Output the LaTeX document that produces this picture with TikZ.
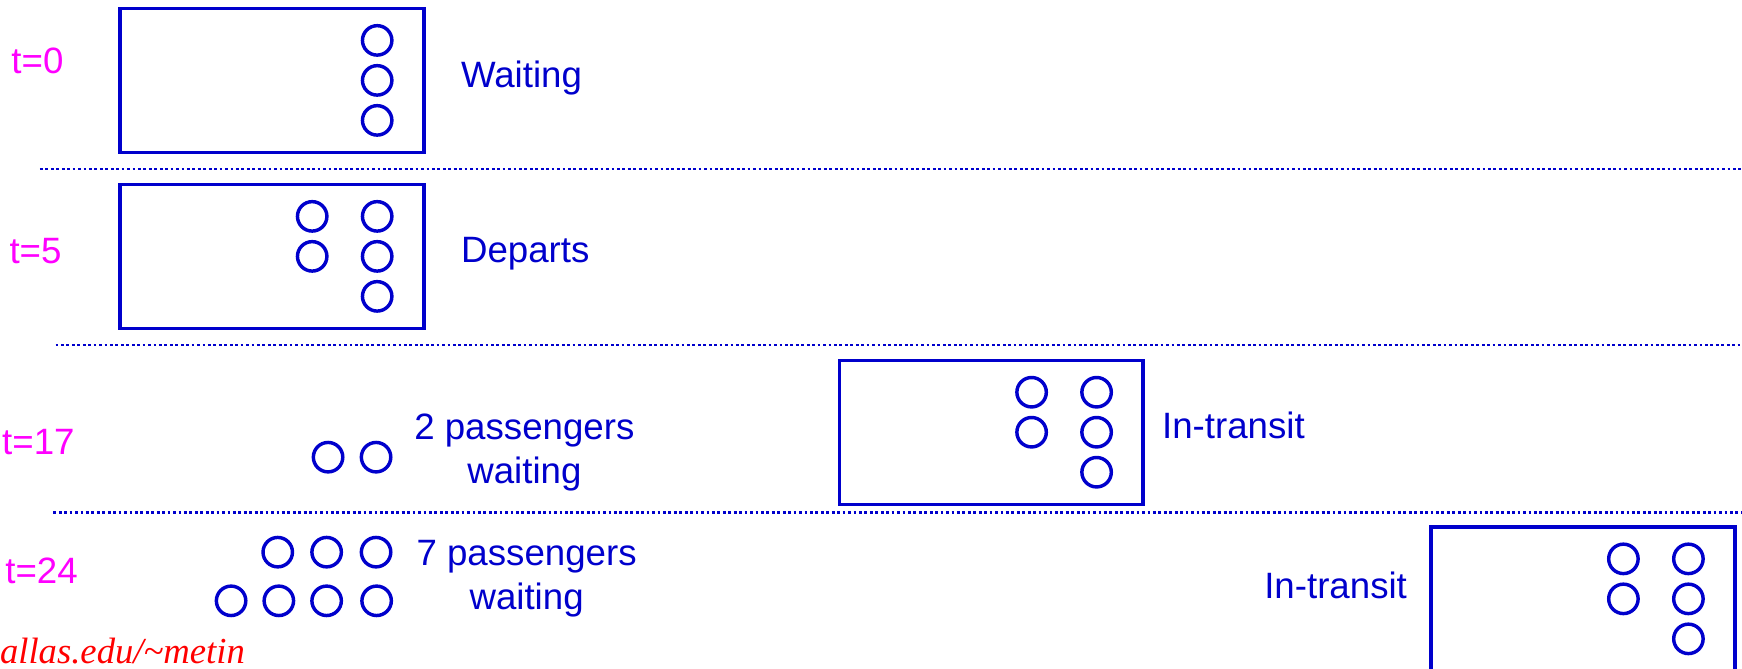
\documentclass[tikz,border=0pt]{standalone}
\usepackage{fontspec}
\setmainfont{Liberation Sans}
\newfontfamily\urlfont{Liberation Serif}
\definecolor{busblue}{RGB}{0,0,204}
\definecolor{clock}{RGB}{255,0,255}
\definecolor{urlred}{RGB}{255,0,0}
\begin{document}
\begin{tikzpicture}[x=1pt,y=-1pt,
  every node/.style={inner sep=0pt, outer sep=0pt, font=\fontsize{33}{40}\selectfont},
  bus/.style={draw=busblue, line width=3.2pt, minimum width=273.5pt, minimum height=129.5pt},
  pax/.style={circle, draw=busblue, line width=3.1pt, minimum size=26.5pt},
  timelabel/.style={text=clock, anchor=base west},
  status/.style={text=busblue, anchor=base west},
  crowd/.style={text=busblue, align=center, anchor=base},
  separator/.style={draw=busblue, line width=2.4pt, dash pattern=on 2.5pt off 2.4pt}]
\useasboundingbox (0,0) rectangle (1568,602);

% time stamps
\node[timelabel] (t0)  at (10.3,66.6) {t=0};
\node[timelabel] (t5)  at (8.6,237)   {t=5};
\node[timelabel] (t17) at (2,409.5)   {t=17};
\node[timelabel] (t24) at (4.8,525)   {t=24};

% row separators
\coordinate (s1a) at (36,152);   \coordinate (s1b) at (1568,152);
\coordinate (s2a) at (50,310.5); \coordinate (s2b) at (1568,310.5);
\coordinate (s3a) at (48,461.5); \coordinate (s3b) at (1568,461.5);
\draw[separator] (s1a) -- (s1b);
\draw[separator] (s2a) -- (s2b);
\draw[separator] (s3a) -- (s3b);

% t=0: bus waiting with three passengers
\node[bus] (bus1) at (244.75,72.6) {};
\node[pax] (b1r1) at ([shift={(-42,28.5)}]bus1.north east) {};
\node[pax] (b1r2) at ([shift={(-42,64.5)}]bus1.north east) {};
\node[pax] (b1r3) at ([shift={(-42,100.5)}]bus1.north east) {};
\node[status] (w1) at (415,79) {Waiting};

% t=5: bus departs with five passengers
\node[bus] (bus2) at (244.75,231) {};
\node[pax] (b2l1) at ([shift={(-100.5,28.5)}]bus2.north east) {};
\node[pax] (b2l2) at ([shift={(-100.5,64.5)}]bus2.north east) {};
\node[pax] (b2r1) at ([shift={(-42,28.5)}]bus2.north east) {};
\node[pax] (b2r2) at ([shift={(-42,64.5)}]bus2.north east) {};
\node[pax] (b2r3) at ([shift={(-42,100.5)}]bus2.north east) {};
\node[status] (d2) at (415,236) {Departs};

% t=17: two passengers at the stop, bus in transit
\node[pax] (q1a) at (295.3,411.5) {};
\node[pax] (q1b) at (338.5,411.5) {};
\node[crowd] (c17) at (472,435.5) {2 passengers\\waiting};
\node[bus] (bus3) at (892.3,389.3) {};
\node[pax] (b3l1) at ([shift={(-100.5,28.5)}]bus3.north east) {};
\node[pax] (b3l2) at ([shift={(-100.5,64.5)}]bus3.north east) {};
\node[pax] (b3r1) at ([shift={(-42,28.5)}]bus3.north east) {};
\node[pax] (b3r2) at ([shift={(-42,64.5)}]bus3.north east) {};
\node[pax] (b3r3) at ([shift={(-42,100.5)}]bus3.north east) {};
\node[status] (i3) at (1046,395) {In-transit};

% t=24: seven passengers at the stop, bus further along
\node[pax] (q2a) at (250,497) {};
\node[pax] (q2b) at (294,497) {};
\node[pax] (q2c) at (338.5,497) {};
\node[pax] (q2d) at (208,540.8) {};
\node[pax] (q2e) at (251,540.8) {};
\node[pax] (q2f) at (294,540.8) {};
\node[pax] (q2g) at (339,540.8) {};
\node[crowd] (c24) at (474,549) {7 passengers\\waiting};
\node[status] (i4) at (1138,539) {In-transit};
\node[bus] (bus4) at (1425,539.3) {};
\node[pax] (b4l1) at ([shift={(-100.5,28.5)}]bus4.north east) {};
\node[pax] (b4l2) at ([shift={(-100.5,64.5)}]bus4.north east) {};
\node[pax] (b4r1) at ([shift={(-42,28.5)}]bus4.north east) {};
\node[pax] (b4r2) at ([shift={(-42,64.5)}]bus4.north east) {};
\node[pax] (b4r3) at ([shift={(-42,100.5)}]bus4.north east) {};

% footer address
\node[anchor=base west, text=urlred, font=\fontsize{33}{40}\urlfont\itshape] (url) at (0,597) {allas.edu/\textasciitilde metin};
\end{tikzpicture}
\end{document}
